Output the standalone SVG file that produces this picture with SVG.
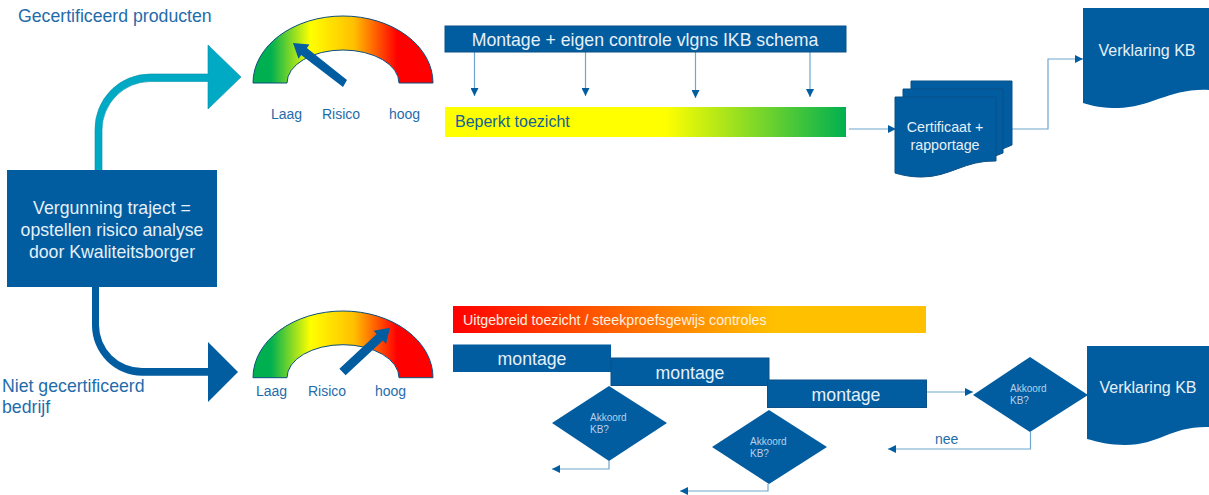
<svg xmlns="http://www.w3.org/2000/svg" width="1209" height="495" viewBox="0 0 1209 495">
<style>
text{font-family:"Liberation Sans",Arial,sans-serif}
.b{fill:#015ca0}
.o{stroke:#0b5087;stroke-width:1}
.w{fill:#e6f0f8;text-anchor:middle}
.t{fill:#1f6cab}
.s{font-size:14px}
.c{fill:none;stroke:#6fa6d0;stroke-width:1.200;marker-end:url(#h)}
.g{fill:url(#gauge);stroke:#0b4f80;stroke-width:1}
.ak{fill:#b5d2ea;font-size:10px}
</style>
<defs>
<linearGradient id="gauge" x1="0" x2="1" y1="0" y2="0">
<stop offset=".1" stop-color="#00b050"/><stop offset=".32" stop-color="#ffff00"/><stop offset=".56" stop-color="#ffc000"/><stop offset=".8" stop-color="#ff0000"/>
</linearGradient>
<linearGradient id="low" x1="0" x2="1" y1="0" y2="0"><stop offset=".55" stop-color="#ffff00"/><stop offset="1" stop-color="#00b050"/></linearGradient>
<linearGradient id="high" x1="0" x2="1" y1="0" y2="0"><stop offset="0" stop-color="#ff0000"/><stop offset=".68" stop-color="#ffc000"/></linearGradient>
<marker id="h" markerUnits="userSpaceOnUse" markerWidth="8" markerHeight="8" refX="8" refY="4" orient="auto"><path d="M0,0L8,4L0,8Z" fill="#015ca0"/></marker>
</defs>

<g id="connectors">
<path d="M102,172V130A48.500,48.500 0 0 1 150,81.500H208V109L241,77L208,45V74H150A55,55 0 0 0 95,130V172Z" fill="#00a9c4" stroke="#0592ab" stroke-width=".6"/>
<path d="M92,285V325A50.500,50.500 0 0 0 142,375.700H208V402L238,372L208,342V368H142A43,43 0 0 1 99,325V285Z" class="b"/>
<path class="c" d="M474.500,52V96"/>
<path class="c" d="M585.500,52V96"/>
<path class="c" d="M695.500,52V98"/>
<path class="c" d="M810,52V97"/>
<path class="c" d="M849,129H896"/>
<path class="c" d="M1012,129H1048V59H1083"/>
<path class="c" d="M926,392H973"/>
<path class="c" d="M609,461V469H552"/>
<path class="c" d="M768,484V491H680"/>
<path class="c" d="M1030.500,432V449H888"/>
</g>

<g id="start"><rect x="7" y="170" width="210" height="117" class="b"/>
<text class="w" font-size="17.700"><tspan x="112" y="214">Vergunning traject =</tspan><tspan x="112" y="236">opstellen risico analyse</tspan><tspan x="112" y="258">door Kwaliteitsborger</tspan></text></g>

<g id="label-cert"><text class="t" x="18" y="22" font-size="17.700">Gecertificeerd producten</text></g>
<g id="label-niet"><text class="t" font-size="17.700"><tspan x="2" y="392">Niet gecertificeerd</tspan><tspan x="2" y="413">bedrijf</tspan></text></g>

<g id="gauge-top">
<path class="g" d="M253,83A90,67 0 0 1 433,83H399A56,33 0 0 0 287,83Z"/>
<polygon class="b" points="293,43 309.500,44.500 306.800,48 347,80 343,87 301.200,55.100 298.500,58.700"/>
<text class="t s" x="271" y="119">Laag</text><text class="t s" x="322" y="119">Risico</text><text class="t s" x="389" y="119">hoog</text>
</g>
<g id="gauge-bottom">
<path class="g" d="M253,377.700A90,66.700 0 0 1 433,377.700H399A56,33 0 0 0 287,377.700Z"/>
<polygon class="b" points="390,327.700 386,343.900 382.900,340.600 345.600,375.300 339.400,368.700 376.700,334 373.600,330.700"/>
<text class="t s" x="256" y="396">Laag</text><text class="t s" x="308" y="396">Risico</text><text class="t s" x="375" y="396">hoog</text>
</g>

<g id="montage-ikb"><rect x="445" y="26" width="401" height="26" class="b o"/><text class="w" x="645" y="46" font-size="17.700">Montage + eigen controle vlgns IKB schema</text></g>
<g id="beperkt"><rect x="445" y="107" width="401" height="30" fill="url(#low)"/><text x="455" y="127" font-size="16" fill="#125f9a">Beperkt toezicht</text></g>

<g id="certificaat">
<path class="b o" d="M911,81H1012V145L1000,150H911Z"/>
<path class="b o" d="M903,89H1003V153L990,158H903Z"/>
<path class="b o" d="M895,97H996V161C965,160 950,177 922,177C910,177 902,175 895,173Z"/>
<text class="w" font-size="14.300"><tspan x="945" y="132">Certificaat +</tspan><tspan x="945" y="150">rapportage</tspan></text>
</g>
<g id="verklaring-top"><path class="b" d="M1083,8H1209V90C1170,88 1150,108 1118,108C1103,108 1092,106 1083,103Z"/><text class="w" x="1147" y="56" font-size="16">Verklaring KB</text></g>

<g id="uitgebreid"><rect x="453" y="306" width="473" height="27" fill="url(#high)"/><text x="463" y="325" font-size="14.200" fill="#fff0e0">Uitgebreid toezicht / steekproefsgewijs controles</text></g>

<g id="montage-1"><rect x="453" y="344.500" width="158" height="27.500" class="b"/><text class="w" x="532" y="365" font-size="17.700">montage</text></g>
<g id="montage-2"><rect x="611" y="358" width="158" height="27.500" class="b o"/><text class="w" x="690" y="379" font-size="17.700">montage</text></g>
<g id="montage-3"><rect x="767.500" y="380" width="159" height="27.500" class="b o"/><text class="w" x="846" y="401" font-size="17.700">montage</text></g>

<g id="akkoord-1"><polygon class="b" points="609,386 667,423 609,461 552,423"/><text class="ak"><tspan x="590" y="421">Akkoord</tspan><tspan x="590" y="433">KB?</tspan></text></g>
<g id="akkoord-2"><polygon class="b" points="769,410 827,447 769,484 712,447"/><text class="ak"><tspan x="750" y="445">Akkoord</tspan><tspan x="750" y="457">KB?</tspan></text></g>
<g id="akkoord-3"><polygon class="b" points="1030,357 1088,395 1030,432 973,395"/><text class="ak"><tspan x="1010" y="392">Akkoord</tspan><tspan x="1010" y="404">KB?</tspan></text></g>

<g id="nee"><text class="t s" x="935" y="444">nee</text></g>
<g id="verklaring-bottom"><path class="b" d="M1087,346H1209V427C1170,426 1160,445 1125,445C1110,445 1098,442 1087,439Z"/><text class="w" x="1148" y="393" font-size="16">Verklaring KB</text></g>
</svg>
